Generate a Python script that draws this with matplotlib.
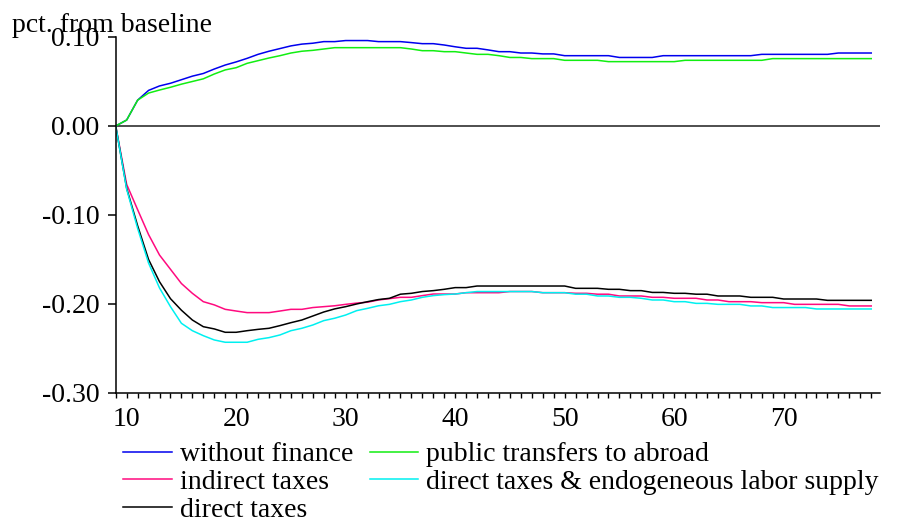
import matplotlib
matplotlib.use("Agg")
import matplotlib.pyplot as plt
from matplotlib.ticker import MultipleLocator

# データ
years = list(range(9, 79))

without_finance = [0.0, 0.0067, 0.029, 0.040, 0.045, 0.048, 0.052, 0.056, 0.059, 0.064,
                   0.0685, 0.072, 0.076, 0.0805, 0.084, 0.087, 0.090, 0.092, 0.093, 0.0948,
                   0.0948, 0.096, 0.096, 0.096, 0.0948, 0.0948, 0.0948, 0.0937, 0.0925, 0.0925,
                   0.091, 0.089, 0.0873, 0.0873, 0.0855, 0.0835, 0.0835, 0.082, 0.082, 0.081,
                   0.081, 0.079, 0.079, 0.079, 0.079, 0.079, 0.077, 0.077, 0.077, 0.077,
                   0.079, 0.079, 0.079, 0.079, 0.079, 0.079, 0.079, 0.079, 0.079, 0.0805,
                   0.0805, 0.0805, 0.0805, 0.0805, 0.0805, 0.0805, 0.082, 0.082, 0.082, 0.082]

public_transfers = [0.0, 0.0067, 0.029, 0.037, 0.0404, 0.0435, 0.047, 0.050, 0.053, 0.0584,
                    0.063, 0.0655, 0.0704, 0.0734, 0.0764, 0.079, 0.082, 0.084, 0.085, 0.0865,
                    0.088, 0.088, 0.088, 0.088, 0.088, 0.088, 0.088, 0.0865, 0.0846, 0.0846,
                    0.0835, 0.0835, 0.082, 0.0805, 0.0805, 0.079, 0.077, 0.077, 0.0757, 0.0757,
                    0.0757, 0.0738, 0.0738, 0.0738, 0.0738, 0.0723, 0.0723, 0.0723, 0.0723, 0.0723,
                    0.0723, 0.0723, 0.0738, 0.0738, 0.0738, 0.0738, 0.0738, 0.0738, 0.0738, 0.0738,
                    0.0757, 0.0757, 0.0757, 0.0757, 0.0757, 0.0757, 0.0757, 0.0757, 0.0757, 0.0757]

indirect_taxes = [0.0, -0.0656, -0.094, -0.122, -0.145, -0.161, -0.177, -0.188, -0.1974, -0.201,
                  -0.206, -0.2079, -0.2097, -0.2097, -0.2097, -0.2079, -0.206, -0.206, -0.204, -0.203,
                  -0.202, -0.2004, -0.199, -0.198, -0.1955, -0.194, -0.1925, -0.1925, -0.1906, -0.1888,
                  -0.1888, -0.1888, -0.1873, -0.1873, -0.1873, -0.1873, -0.186, -0.186, -0.186, -0.1873,
                  -0.1873, -0.1873, -0.188, -0.188, -0.189, -0.189, -0.191, -0.191, -0.191, -0.1925,
                  -0.1925, -0.1936, -0.1936, -0.1936, -0.1955, -0.1955, -0.1974, -0.1974, -0.1974, -0.1985,
                  -0.1985, -0.1985, -0.2004, -0.2004, -0.2004, -0.2004, -0.2004, -0.2022, -0.2022, -0.2022]

direct_taxes_labor = [0.0, -0.071, -0.115, -0.154, -0.182, -0.203, -0.2217, -0.230, -0.2356, -0.2404,
                      -0.243, -0.243, -0.243, -0.2397, -0.2378, -0.2348, -0.230, -0.2273, -0.2236, -0.2187,
                      -0.216, -0.2124, -0.2075, -0.2049, -0.202, -0.2004, -0.1974, -0.1955, -0.1925, -0.1906,
                      -0.1895, -0.1888, -0.1873, -0.186, -0.186, -0.186, -0.186, -0.186, -0.186, -0.1873,
                      -0.1873, -0.1873, -0.189, -0.189, -0.191, -0.191, -0.1925, -0.1925, -0.1936, -0.1955,
                      -0.1955, -0.1974, -0.1974, -0.1993, -0.1993, -0.2004, -0.2004, -0.2004, -0.2022, -0.2022,
                      -0.204, -0.204, -0.204, -0.204, -0.2056, -0.2056, -0.2056, -0.2056, -0.2056, -0.2056]

direct_taxes = [0.0, -0.070, -0.112, -0.150, -0.175, -0.194, -0.207, -0.218, -0.2255, -0.228,
                -0.2318, -0.2318, -0.230, -0.2285, -0.2273, -0.2243, -0.221, -0.218, -0.2135, -0.209,
                -0.2055, -0.203, -0.200, -0.1974, -0.195, -0.1936, -0.189, -0.188, -0.186, -0.185,
                -0.1835, -0.1816, -0.1816, -0.1798, -0.1798, -0.1798, -0.1798, -0.1798, -0.1798, -0.1798,
                -0.1798, -0.1798, -0.1824, -0.1824, -0.1824, -0.1835, -0.1835, -0.185, -0.185, -0.187,
                -0.187, -0.188, -0.188, -0.189, -0.189, -0.191, -0.191, -0.191, -0.1925, -0.1925,
                -0.1925, -0.1944, -0.1944, -0.1944, -0.1944, -0.1959, -0.1959, -0.1959, -0.1959, -0.1959]

y_ticks = [-0.30, -0.20, -0.10, 0.00, 0.10]
y_labels = ["-0.30", "-0.20", "-0.10", "0.00", "0.10"]

plt.rcParams['font.family'] = ['Liberation Serif', 'DejaVu Serif']

fig = plt.figure(figsize=(9.09, 5.21), dpi=100)
ax = fig.add_axes([0.1273, 0.2457, 0.8408, 0.6833])

ax.axhline(0, color="#404040", lw=1.3, zorder=1)

# 線を描く
ax.plot(years, without_finance, color="#0000ee", lw=1.1, label="without finance")
ax.plot(years, indirect_taxes, color="#ff0a7f", lw=1.1, label="indirect taxes")
ax.plot(years, direct_taxes, color="black", lw=1.1, label="direct taxes")
ax.plot(years, public_transfers, color="#11ee11", lw=1.1, label="public transfers to abroad")
ax.plot(years, direct_taxes_labor, color="#00f0f0", lw=1.1,
        label="direct taxes & endogeneous labor supply")

ax.set_xlim(9, 78.8)
ax.set_ylim(-0.30, 0.10)
ax.set_yticks(y_ticks)
ax.set_yticklabels(y_labels)
ax.xaxis.set_major_locator(MultipleLocator(10))
ax.xaxis.set_minor_locator(MultipleLocator(1))

ax.spines["top"].set_visible(False)
ax.spines["right"].set_visible(False)
ax.spines["left"].set_linewidth(1.1)
ax.spines["bottom"].set_linewidth(1.1)

ax.tick_params(axis="y", direction="out", length=6, width=1.1, pad=5.5, labelsize=20)
ax.tick_params(axis="x", which="both", direction="out", length=3.6, width=1.0, pad=6.5, labelsize=20)

fig.text(12 / 909, 1 - 32 / 521, "pct. from baseline", fontsize=20, va="baseline", ha="left")

leg = fig.legend(loc="upper left", bbox_to_anchor=(123 / 909, 1 - 442 / 521), ncol=2,
                 frameon=False, fontsize=20, handlelength=1.75, handletextpad=0.29,
                 columnspacing=0.6, labelspacing=0.08, borderpad=0, borderaxespad=0)

fig.savefig("out.png", dpi=100)
